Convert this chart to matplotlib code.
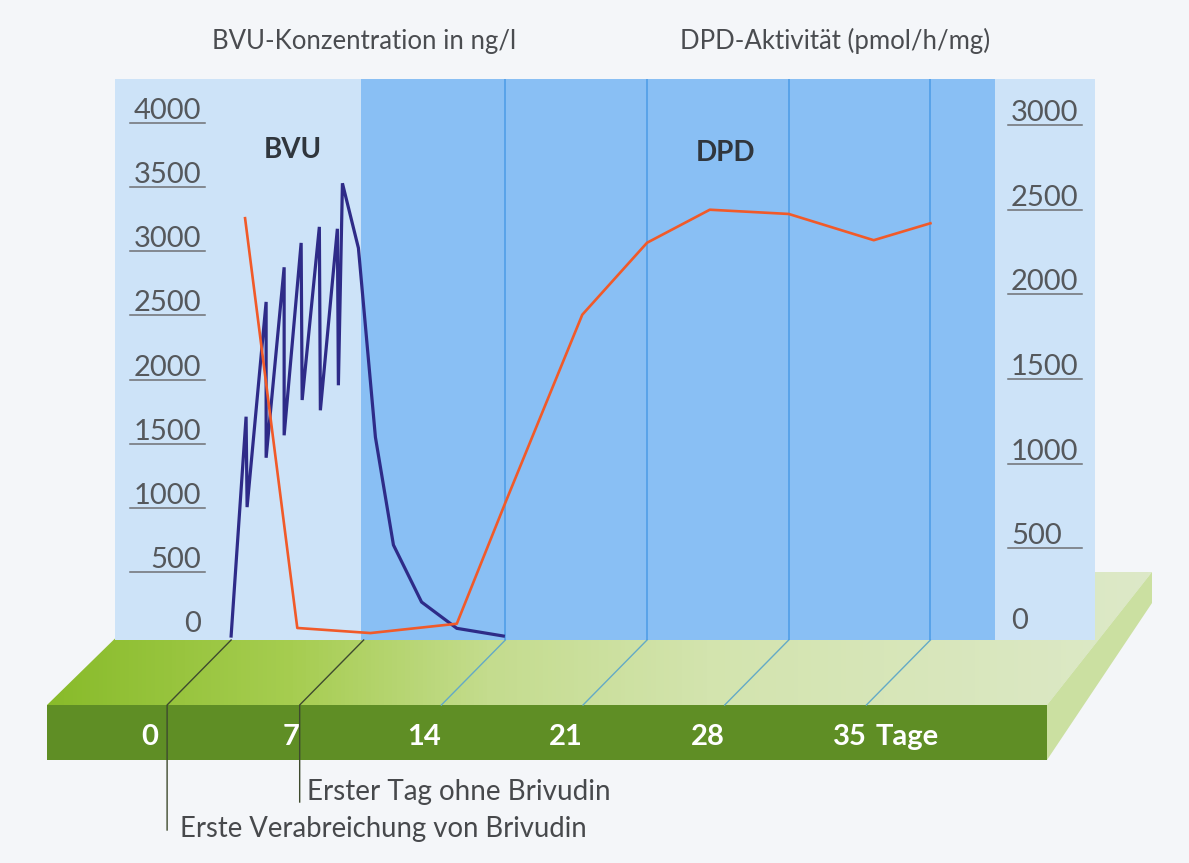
import numpy as np
from matplotlib import pyplot as plt
from matplotlib import transforms
from matplotlib.patches import Polygon, Rectangle
from matplotlib.colors import LinearSegmentedColormap

# значения
bvu_days = [0.45, 1.19, 1.24, 2.18, 2.18, 3.07, 3.07, 3.91, 3.96, 4.81, 4.86,
            5.70, 5.75, 5.95, 6.74, 7.58, 8.47, 9.86, 11.60, 13.9]
bvu_values = [0, 1710, 1005, 2605, 1390, 2875, 1565, 3065, 1840, 3190, 1760,
              3175, 1955, 3530, 3025, 1550, 710, 265, 60, 0]

dpd_days = [1.14, 3.72, 7.33, 11.6, 14, 17.8, 21, 24.1, 28, 32.2, 35]
dpd_values = [2450, 30, 0, 55, 770, 1880, 2305, 2500, 2475, 2320, 2420]

day_ticks = [0, 7, 14, 21, 28, 35]
day_unit = "Tage"
grid_days = [14, 21, 28, 35]
bvu_ticks = [0, 500, 1000, 1500, 2000, 2500, 3000, 3500, 4000]
dpd_ticks = [0, 500, 1000, 1500, 2000, 2500, 3000]
dose_last_day = 7

# геометрия картинки в пикселях
W, H = 1189, 863
PANEL_L, PANEL_R, PANEL_T, PANEL_B = 115, 1095, 79, 640
DARK_R = 995
DAY0_PX, DAY_PX = 222, 20.24
SHIFT = 64  # сдвиг передней кромки платформы влево
FRONT_T, FRONT_B = 705, 760


def day_px(d):
    """
    Положение дня на задней плоскости (пиксели)
    """
    return DAY0_PX + DAY_PX * d


def main() -> None:
    plt.rcParams['font.family'] = ['Lato', 'DejaVu Sans']

    fig = plt.figure(figsize=(W / 100, H / 100), dpi=100)
    fig.patch.set_facecolor('#f4f6f9')

    bg = fig.add_axes([0, 0, 1, 1])
    bg.axis('off')

    # верх платформы
    top = Polygon([(183, 572), (1152, 572), (1047, FRONT_T), (47, FRONT_T)],
                  closed=True, fc='none', ec='none')
    bg.add_patch(top)
    cmap = LinearSegmentedColormap.from_list(
        'plat', [(0, '#88bb2a'), (0.22, '#a6cd50'), (0.4, '#c4dc8e'),
                 (0.6, '#d3e4ae'), (1, '#dde9c8')])
    grad = np.linspace(0, 1, 256).reshape(1, -1)
    im = bg.imshow(grad, cmap=cmap, extent=(47, 1152, FRONT_T, 572), aspect='auto')
    im.set_clip_path(top)

    # боковая и передняя грани
    bg.add_patch(Polygon([(1152, 572), (1152, 603), (1047, FRONT_B), (1047, FRONT_T)],
                         closed=True, fc='#cbe0a1', ec='none'))
    bg.add_patch(Rectangle((47, FRONT_T), 1000, FRONT_B - FRONT_T, fc='#5f8e25', ec='none'))

    # панели
    x7 = day_px(dose_last_day) - 3
    bg.add_patch(Rectangle((PANEL_L, PANEL_T), x7 - PANEL_L, PANEL_B - PANEL_T,
                           fc='#cde3f8', ec='none'))
    bg.add_patch(Rectangle((x7, PANEL_T), DARK_R - x7, PANEL_B - PANEL_T,
                           fc='#89bff4', ec='none'))
    bg.add_patch(Rectangle((DARK_R, PANEL_T), PANEL_R - DARK_R, PANEL_B - PANEL_T,
                           fc='#cde3f8', ec='none'))

    # диагонали на платформе
    for d in grid_days:
        x = day_px(d)
        bg.plot([x, x - SHIFT], [PANEL_B, FRONT_T], color='#64aac6', lw=1)

    for d, y_end in [(bvu_days[0], 830), (dose_last_day, 802)]:
        x = day_px(d)
        bg.plot([x, x - SHIFT, x - SHIFT], [PANEL_B, FRONT_T, y_end],
                color='#3e4a2e', lw=1)

    # подписи дней на передней грани
    for d in day_ticks:
        bg.text(day_px(d) - SHIFT, 745, str(d), color='white', fontsize=21,
                fontweight='bold', ha='right', va='baseline')
    bg.text(day_px(day_ticks[-1]) - SHIFT + 9, 745, day_unit, color='white',
            fontsize=21, fontweight='bold', ha='left', va='baseline')

    bg.text(307, 800, "Erster Tag ohne Brivudin", color='#47494c', fontsize=20,
            ha='left', va='baseline')
    bg.text(180, 837, "Erste Verabreichung von Brivudin", color='#47494c',
            fontsize=19.8, ha='left', va='baseline')

    bg.text(212, 49, "BVU-Konzentration in ng/l", color='#4a4c50', fontsize=18.5,
            ha='left', va='baseline')
    bg.text(680, 49, "DPD-Aktivität (pmol/h/mg)", color='#4a4c50', fontsize=18.5,
            ha='left', va='baseline')

    bg.text(293, 158, "BVU", color='#30363d', fontsize=20, fontweight='bold',
            ha='center', va='baseline')
    bg.text(725, 161, "DPD", color='#30363d', fontsize=20, fontweight='bold',
            ha='center', va='baseline')

    bg.set_xlim(0, W)
    bg.set_ylim(H, 0)

    # основная область с данными
    ax = fig.add_axes([PANEL_L / W, 1 - PANEL_B / H,
                       (PANEL_R - PANEL_L) / W, (PANEL_B - PANEL_T) / H])
    ax.patch.set_alpha(0)
    ax.set_xlim((PANEL_L - DAY0_PX) / DAY_PX, (PANEL_R - DAY0_PX) / DAY_PX)
    ax.set_ylim(-31, 4343)
    ax.axis('off')

    ax2 = ax.twinx()
    ax2.set_ylim(-41, 3272)
    ax2.axis('off')

    for d in grid_days:
        ax.axvline(d, color='#4b9be6', lw=1.1)

    fw = PANEL_R - PANEL_L
    tr_l = transforms.blended_transform_factory(ax.transAxes, ax.transData)
    tr_r = transforms.blended_transform_factory(ax2.transAxes, ax2.transData)
    off_l = transforms.offset_copy(tr_l, fig=fig, y=4, units='dots')
    off_r = transforms.offset_copy(tr_r, fig=fig, y=4, units='dots')

    for v in bvu_ticks:
        ax.text((201 - PANEL_L) / fw, v, str(v), transform=off_l, ha='right',
                va='baseline', fontsize=21, color='#55585c')
        if v > 0:
            ax.plot([(130 - PANEL_L) / fw, (205 - PANEL_L) / fw], [v, v],
                    transform=tr_l, color='#6e7074', lw=1.1)

    for v in dpd_ticks:
        ax2.text((1011 - PANEL_L) / fw, v, str(v), transform=off_r, ha='left',
                 va='baseline', fontsize=21, color='#55585c')
        if v > 0:
            ax2.plot([(1008 - PANEL_L) / fw, (1082 - PANEL_L) / fw], [v, v],
                     transform=tr_r, color='#6e7074', lw=1.1)

    ax.plot(bvu_days, bvu_values, color='#2e2b88', lw=2.3, solid_joinstyle='miter')
    ax2.plot(dpd_days, dpd_values, color='#f15a29', lw=1.9)

    fig.savefig('out.png', dpi=100, facecolor=fig.get_facecolor())


if __name__ == '__main__':
    main()
